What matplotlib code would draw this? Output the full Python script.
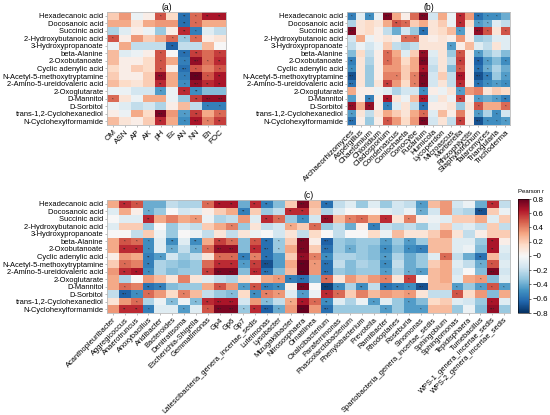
import numpy as np
import matplotlib
matplotlib.use("Agg")
import matplotlib.pyplot as plt

plt.rcParams['font.family'] = ['Liberation Sans', 'DejaVu Sans']

metabolites = ["Hexadecanoic acid", "Docosanoic acid", "Succinic acid", "2-Hydroxybutanoic acid",
               "3-Hydroxypropanoate", "beta-Alanine", "2-Oxobutanoate", "Cyclic adenylic acid",
               "N-Acetyl-5-methoxytryptamine", "2-Amino-5-ureidovaleric acid", "2-Oxoglutarate",
               "D-Mannitol", "D-Sorbitol", "trans-1,2-Cyclohexanediol", "N-Cyclohexylformamide"]

soil_vars = ["OM", "ASN", "AP", "AK", "pH", "Ec", "AN", "NN", "Eh", "FOC"]

fungi = ["Archaeorhizomyces", "Aspergillus", "Chaetomium", "Chloridium", "Cladosporium",
         "Condenascus", "Coniochaeta", "Conocybe", "Fusarium", "Humicola", "Lycoperdon",
         "Microascus", "Mortierella", "Rhizophlyctis", "Staphylotrichum", "Talaromyces",
         "Triangularia", "Trichoderma"]

bacteria = ["Acanthopleuribacter", "Aggregicoccus", "Anaerotruncus", "Anoxybacillus", "Aridibacter",
            "Bacteroides", "Denitratisoma", "Escherichia-Shigella", "Gemmatimonas", "Gp4", "Gp6", "Gp7",
            "Latescibacteria_genera_incertae_sedis", "Luteimonas", "Lysobacter", "Mizugakiibacter",
            "Nitrososphaera", "Ornatilinea", "Oxalicibacterium", "Paraferrimonas",
            "Phascolarctobacterium", "Phenylobacterium", "Prevotella", "Ramlibacter", "Rhodoplanes",
            "Roseburia", "Sinomonas", "Spartobacteria_genera_incertae_sedis", "Sphingobium",
            "Sphingomonas", "Tepidisphaera", "Tumebacillus", "WPS-1_genera_incertae_sedis",
            "WPS-2_genera_incertae_sedis"]

# Pearson r, metabolites x soil properties
r_soil = [
    [0.20, 0.35, -0.05, 0.05, 0.50, 0.15, -0.60, 0.45, 0.65, 0.65],
    [0.30, 0.30, 0.10, 0.30, 0.35, 0.35, -0.60, 0.45, 0.30, 0.30],
    [-0.25, -0.10, 0.05, -0.05, -0.30, 0.05, 0.60, -0.55, -0.10, -0.20],
    [0.50, 0.05, 0.35, 0.20, 0.30, 0.45, -0.30, 0.45, 0.05, 0.10],
    [-0.05, 0.30, -0.20, -0.20, -0.20, -0.65, -0.20, -0.20, 0.25, 0.00],
    [0.25, -0.10, -0.05, 0.05, 0.50, 0.00, -0.60, 0.55, 0.45, 0.55],
    [0.25, 0.05, 0.05, 0.15, 0.50, 0.30, -0.55, 0.70, 0.45, 0.60],
    [0.15, 0.05, 0.20, 0.15, 0.50, 0.05, -0.60, 0.50, 0.40, 0.50],
    [0.20, 0.05, 0.05, 0.20, 0.70, 0.30, -0.55, 0.80, 0.50, 0.65],
    [0.25, 0.15, 0.10, 0.20, 0.60, 0.30, -0.50, 0.70, 0.60, 0.65],
    [-0.05, -0.05, -0.15, -0.15, -0.45, -0.05, 0.60, -0.50, -0.35, -0.35],
    [0.45, 0.10, -0.05, 0.30, 0.30, -0.05, -0.30, 0.55, 0.70, 0.70],
    [-0.05, -0.10, -0.20, -0.15, -0.25, 0.05, 0.25, -0.20, -0.55, -0.55],
    [0.05, -0.05, 0.30, 0.15, 0.75, 0.35, -0.45, 0.55, 0.30, 0.45],
    [0.25, 0.10, 0.05, 0.20, 0.60, 0.30, -0.50, 0.65, 0.40, 0.55],
]
# number of stars per cell (1: p<0.05, 2: p<0.01, 3: p<0.001)
sig_soil = ["0000102122", "0000002100", "0000002100", "1000011100", "0000020000",
            "0000102201", "0000101312", "0000103101", "0000301312", "0000201322",
            "0000102200", "1000000233", "0000000011", "0000301201", "0000201312"]

r_fungi = [
    [-0.55, -0.10, -0.50, -0.05, 0.75, 0.30, 0.05, 0.45, 0.75, -0.15, 0.30, -0.05, 0.60, 0.35, -0.60, -0.50, -0.50, -0.40],
    [-0.25, 0.10, 0.15, 0.10, 0.30, 0.50, 0.45, 0.20, 0.30, 0.10, 0.20, -0.05, 0.60, 0.15, -0.45, -0.40, -0.10, -0.20],
    [0.75, 0.10, 0.15, 0.05, -0.20, -0.40, -0.15, -0.30, -0.60, 0.10, 0.15, 0.25, -0.45, 0.05, 0.70, 0.50, 0.10, 0.50],
    [-0.15, 0.30, -0.05, 0.05, 0.10, 0.05, 0.45, 0.45, 0.10, 0.05, 0.10, 0.05, 0.35, 0.05, -0.30, -0.25, -0.10, -0.10],
    [-0.20, -0.05, -0.15, -0.05, 0.20, -0.20, -0.25, -0.20, 0.10, 0.10, 0.10, -0.45, 0.05, 0.25, -0.10, -0.20, 0.10, -0.10],
    [-0.35, 0.15, -0.20, 0.05, 0.45, 0.30, -0.10, 0.20, 0.70, -0.10, 0.10, -0.30, 0.50, 0.05, -0.45, -0.30, -0.20, -0.35],
    [-0.55, 0.10, -0.25, 0.05, 0.45, 0.35, 0.15, 0.30, 0.75, -0.15, 0.10, -0.20, 0.55, 0.05, -0.65, -0.45, -0.35, -0.50],
    [-0.50, 0.10, -0.30, 0.05, 0.35, 0.35, 0.20, 0.30, 0.65, -0.20, 0.10, -0.35, 0.50, 0.05, -0.60, -0.40, -0.25, -0.40],
    [-0.70, 0.10, -0.30, 0.05, 0.40, 0.40, 0.20, 0.40, 0.75, -0.15, 0.20, -0.20, 0.65, 0.05, -0.70, -0.55, -0.30, -0.45],
    [-0.60, 0.10, -0.30, 0.10, 0.55, 0.35, 0.15, 0.40, 0.75, -0.15, 0.10, -0.20, 0.60, 0.05, -0.60, -0.50, -0.45, -0.50],
    [0.30, 0.05, 0.05, -0.05, -0.10, -0.25, -0.15, -0.15, -0.50, 0.05, -0.05, 0.10, -0.45, 0.35, 0.40, 0.10, 0.20, 0.15],
    [-0.45, 0.05, -0.55, 0.05, 0.65, 0.10, -0.05, 0.25, 0.65, -0.10, 0.10, -0.05, 0.55, 0.05, -0.45, -0.40, -0.45, -0.55],
    [0.70, 0.30, 0.70, 0.05, -0.55, -0.10, 0.10, -0.20, -0.60, 0.05, 0.05, 0.10, -0.30, 0.10, 0.50, 0.30, 0.30, 0.45],
    [-0.45, 0.10, -0.20, 0.10, 0.30, 0.20, 0.10, 0.30, 0.45, -0.10, 0.25, 0.05, 0.40, 0.05, -0.45, -0.25, -0.50, -0.15],
    [-0.60, 0.05, -0.30, 0.05, 0.50, 0.35, 0.15, 0.35, 0.75, -0.15, 0.10, -0.20, 0.55, 0.05, -0.70, -0.50, -0.50, -0.45],
]
sig_fungi = ["101030003000202110", "000002100000201100", "300000002000103101",
             "000000110000000000", "000000000001000000", "000010003000101000",
             "200010003000202101", "100000002000102100", "300001013000303201",
             "300020013000202111", "000000001000100000", "002020003000201012",
             "302010002000001001", "100000001000001010", "300010003000203111"]

r_bact = [
    [0.30, 0.60, 0.50, -0.40, -0.40, -0.20, -0.25, -0.25, 0.45, 0.65, 0.65, -0.40, 0.60, -0.55, -0.35, 0.20, 0.75, 0.25,
     -0.60, -0.20, -0.10, -0.30, -0.10, -0.30, -0.15, -0.20, -0.45, 0.25, 0.35, -0.15, -0.05, -0.40, 0.60, -0.20],
    [-0.10, 0.30, 0.05, -0.40, -0.30, 0.00, -0.15, -0.10, 0.05, 0.20, 0.30, -0.55, 0.20, -0.30, -0.20, 0.60, 0.60, 0.20,
     -0.25, -0.10, 0.00, 0.00, 0.00, -0.10, -0.15, -0.05, -0.40, -0.15, 0.35, -0.20, -0.25, -0.70, 0.20, -0.05],
    [0.00, -0.10, -0.10, 0.60, 0.30, 0.40, 0.30, 0.35, -0.05, -0.25, -0.20, 0.35, -0.10, 0.60, 0.45, -0.30, -0.50, -0.15,
     0.70, 0.25, 0.40, 0.45, 0.30, 0.60, 0.10, 0.40, 0.05, -0.05, -0.10, 0.20, 0.20, 0.30, -0.10, 0.20],
    [-0.10, 0.20, 0.20, -0.30, 0.00, -0.30, -0.15, -0.20, 0.20, 0.30, 0.40, -0.30, 0.10, -0.20, -0.15, 0.30, 0.20, 0.45,
     -0.30, -0.20, -0.40, 0.05, -0.55, -0.20, -0.25, -0.20, -0.30, -0.10, 0.20, -0.15, -0.10, -0.20, 0.20, -0.20],
    [0.00, 0.00, -0.20, 0.20, -0.05, -0.30, 0.00, -0.05, -0.20, 0.10, -0.20, 0.10, -0.05, 0.00, -0.15, 0.10, -0.20, 0.15,
     0.00, -0.20, 0.00, 0.00, 0.15, -0.05, 0.25, 0.10, 0.10, 0.20, 0.35, 0.10, -0.20, 0.05, 0.20, 0.20],
    [0.30, 0.50, 0.45, -0.50, -0.10, -0.50, -0.10, -0.50, 0.30, 0.55, 0.45, -0.35, 0.50, -0.60, -0.30, 0.20, 0.75, 0.05,
     -0.65, -0.30, -0.35, -0.30, -0.30, -0.45, -0.30, -0.45, -0.30, 0.25, 0.25, -0.10, -0.10, -0.30, 0.65, 0.05],
    [0.30, 0.60, 0.60, -0.50, -0.10, -0.40, -0.20, -0.40, 0.45, 0.70, 0.70, -0.35, 0.60, -0.60, -0.30, 0.30, 0.75, 0.20,
     -0.60, -0.30, -0.40, -0.30, -0.35, -0.50, -0.35, -0.50, -0.55, 0.25, 0.25, -0.10, -0.05, -0.35, 0.65, -0.10],
    [0.05, 0.35, 0.30, -0.55, -0.45, -0.15, -0.30, -0.20, 0.10, 0.45, 0.45, -0.55, 0.40, -0.60, -0.45, 0.20, 0.70, 0.40,
     -0.50, -0.25, -0.25, -0.30, -0.35, -0.45, -0.25, -0.40, -0.30, -0.10, 0.45, -0.20, -0.40, -0.60, 0.25, -0.15],
    [0.20, 0.45, 0.40, -0.55, -0.25, -0.30, -0.35, -0.30, 0.45, 0.60, 0.60, -0.45, 0.55, -0.70, -0.45, 0.30, 0.80, 0.35,
     -0.60, -0.20, -0.35, -0.25, -0.30, -0.50, -0.20, -0.40, -0.30, 0.20, 0.30, -0.10, -0.20, -0.40, 0.50, -0.10],
    [0.35, 0.60, 0.65, -0.50, -0.25, -0.35, -0.30, -0.30, 0.55, 0.75, 0.75, -0.35, 0.60, -0.60, -0.35, 0.25, 0.80, 0.35,
     -0.60, -0.30, -0.35, -0.30, -0.30, -0.45, -0.25, -0.40, -0.45, 0.25, 0.30, -0.15, 0.00, -0.35, 0.75, -0.15],
    [0.30, -0.25, 0.00, 0.35, 0.25, 0.10, 0.40, 0.10, -0.10, -0.20, -0.25, 0.15, 0.05, 0.30, 0.35, -0.55, -0.60, -0.35,
     0.45, 0.10, 0.35, 0.25, 0.35, 0.40, 0.10, 0.55, 0.00, 0.25, 0.30, -0.10, 0.30, 0.35, -0.35, -0.10],
    [0.30, 0.45, 0.40, -0.60, -0.55, -0.35, -0.30, -0.30, 0.30, 0.50, 0.35, -0.45, 0.50, -0.55, -0.50, 0.05, 0.75, 0.00,
     -0.75, -0.50, -0.25, -0.50, -0.20, -0.60, -0.55, -0.50, -0.70, 0.25, 0.25, -0.45, -0.30, -0.45, 0.50, -0.45],
    [-0.20, -0.65, -0.50, 0.45, 0.35, 0.15, 0.40, 0.25, -0.20, -0.30, -0.35, 0.15, -0.50, 0.40, 0.35, -0.10, -0.45, -0.05,
     0.60, 0.45, 0.20, 0.40, 0.25, 0.35, 0.30, 0.35, 0.10, -0.20, -0.20, 0.50, 0.15, 0.35, -0.35, 0.30],
    [0.10, 0.35, 0.45, -0.25, -0.05, -0.35, -0.05, -0.35, 0.60, 0.65, 0.65, -0.15, 0.35, -0.35, -0.20, 0.30, 0.65, 0.45,
     -0.50, -0.10, -0.25, -0.05, -0.45, -0.10, -0.30, -0.45, -0.35, 0.15, 0.20, -0.10, -0.15, -0.30, 0.65, -0.10],
    [0.35, 0.60, 0.60, -0.55, -0.10, -0.10, -0.45, -0.10, 0.50, 0.75, 0.75, -0.30, 0.60, -0.65, -0.40, 0.35, 0.80, 0.35,
     -0.60, -0.30, -0.30, -0.30, -0.30, -0.45, -0.30, -0.45, -0.45, 0.25, 0.25, -0.30, -0.05, -0.35, 0.70, -0.30],
]
sig_bact = ["0210000012" "2022003020" "0000001000" "0020",
            "0001000000" "0200022000" "0000001000" "0300",
            "0002000100" "0002101030" "1101010000" "0000",
            "0000000000" "1000010100" "0010000000" "0000",
            "0000000000" "0000000000" "0000000000" "0000",
            "0111020202" "1012103030" "0001010000" "0020",
            "0221010113" "3023103030" "1002011000" "0020",
            "0002100001" "1212003120" "0002000010" "0200",
            "0102000002" "2123003130" "0002000000" "0110",
            "0221000023" "3033003030" "0001011000" "0030",
            "0000000000" "0000123020" "0001010000" "0100",
            "0102200001" "0123203031" "0202213001" "0111",
            "0311001000" "1022101021" "0000010001" "0000",
            "0010010123" "3001012120" "0010010000" "0010",
            "0221001013" "3123103030" "0001001000" "0030"]

cbar_ticks = [0.8, 0.6, 0.4, 0.2, 0.0, -0.2, -0.4, -0.6, -0.8]
cbar_labels = ["0.8", "0.6", "0.4", "0.2", "\u22120", "\u22120.2", "\u22120.4", "\u22120.6", "\u22120.8"]

W, H = 550, 415
fig = plt.figure(figsize=(W / 100, H / 100), dpi=100)


def box(x0, y0, x1, y1):
    return [x0 / W, 1 - y1 / H, (x1 - x0) / W, (y1 - y0) / H]


def heat(ax, vals, stars, cols, title, xsize):
    vals = np.array(vals)
    im = ax.imshow(vals, cmap="RdBu_r", vmin=-0.8, vmax=0.8, aspect="auto", interpolation="nearest")
    for i, row in enumerate(stars):
        for j, s in enumerate(row):
            if s != "0":
                ax.text(j, i + 0.1, "*" * int(s), ha="center", va="center", fontsize=3.2, color="#222222")
    ax.set_xticks(range(len(cols)))
    ax.set_xticklabels(cols, rotation=45, ha="right", rotation_mode="anchor", fontsize=xsize)
    ax.set_yticks(range(len(metabolites)))
    ax.set_yticklabels(metabolites, fontsize=5.4)
    ax.tick_params(length=1.5, width=0.4, pad=1, color="#888888")
    for sp in ax.spines.values():
        sp.set_color("#bbbbbb")
        sp.set_linewidth(0.6)
    ax.set_title(title, fontsize=6.2, pad=1.5)
    return im


ax_a = fig.add_axes(box(107, 12, 226, 125))
heat(ax_a, r_soil, sig_soil, soil_vars, "(a)", 5.8)

ax_b = fig.add_axes(box(347, 12, 510, 125))
heat(ax_b, r_fungi, sig_fungi, fungi, "(b)", 5.8)

ax_c = fig.add_axes(box(107, 200, 510, 313))
im = heat(ax_c, r_bact, sig_bact, bacteria, "(c)", 5.45)

cax = fig.add_axes(box(518, 199, 529, 313))
cb = fig.colorbar(im, cax=cax)
cb.set_ticks(cbar_ticks)
cb.set_ticklabels(cbar_labels)
cb.ax.tick_params(labelsize=5.7, length=1.5, width=0.4, pad=1)
cb.outline.set_linewidth(0.4)
cax.set_title("Pearson r", fontsize=4.3, pad=4, loc="left")

fig.savefig("out.png", dpi=100)
